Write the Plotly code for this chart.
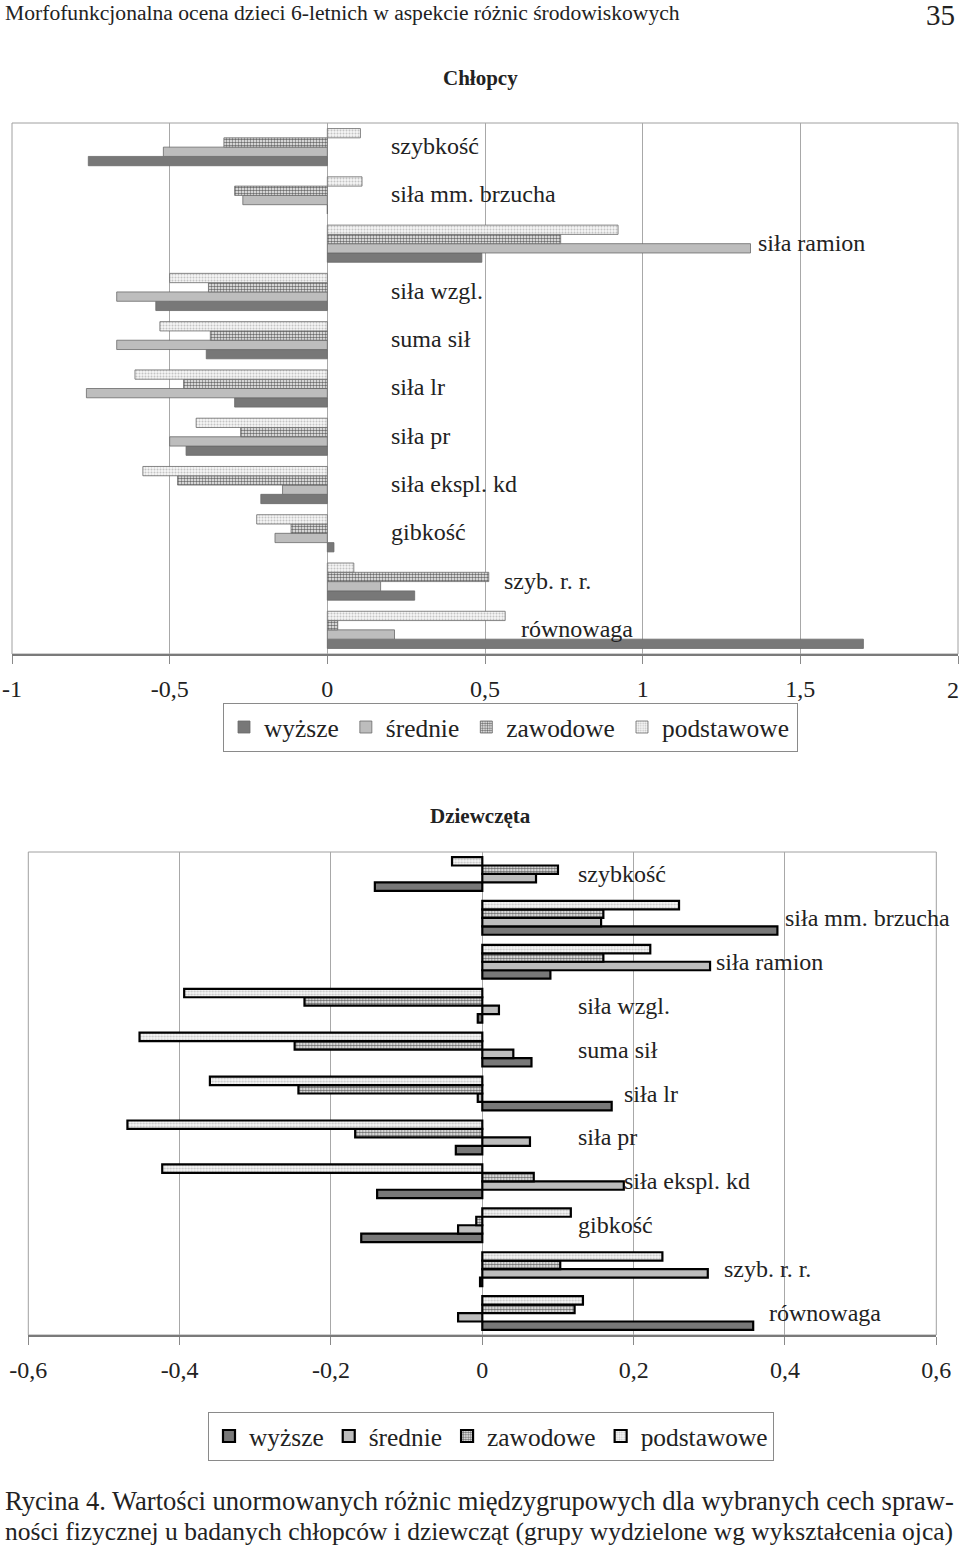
import plotly.graph_objects as go

# ---------------- data ----------------
categories = ["szybkość", "siła mm. brzucha", "siła ramion", "siła wzgl.", "suma sił",
              "siła lr", "siła pr", "siła ekspl. kd", "gibkość", "szyb. r. r.", "równowaga"]
series_names = ["wyższe", "średnie", "zawodowe", "podstawowe"]

# Chłopcy (boys)
boys_wyzsze     = [-0.758, 0.0, 0.49, -0.544, -0.384, -0.294, -0.448, -0.211, 0.021, 0.277, 1.70]
boys_srednie    = [-0.52, -0.268, 1.342, -0.668, -0.668, -0.764, -0.50, -0.142, -0.166, 0.169, 0.213]
boys_zawodowe   = [-0.328, -0.294, 0.74, -0.377, -0.371, -0.456, -0.275, -0.475, -0.115, 0.512, 0.033]
boys_podstawowe = [0.105, 0.11, 0.922, -0.50, -0.531, -0.61, -0.416, -0.585, -0.224, 0.084, 0.564]

# Dziewczęta (girls)
girls_wyzsze     = [-0.142, 0.390, 0.090, -0.006, 0.065, 0.171, -0.035, -0.139, -0.160, -0.003, 0.358]
girls_srednie    = [0.071, 0.157, 0.301, 0.022, 0.041, -0.006, 0.063, 0.187, -0.032, 0.298, -0.032]
girls_zawodowe   = [0.100, 0.160, 0.160, -0.235, -0.248, -0.243, -0.168, 0.068, -0.008, 0.103, 0.122]
girls_podstawowe = [-0.040, 0.260, 0.222, -0.394, -0.453, -0.360, -0.469, -0.423, 0.117, 0.238, 0.133]

boys_ticks = [-1, -0.5, 0, 0.5, 1, 1.5, 2]
boys_tick_text = ["-1", "-0,5", "0", "0,5", "1", "1,5", "2"]
girls_ticks = [-0.6, -0.4, -0.2, 0, 0.2, 0.4, 0.6]
girls_tick_text = ["-0,6", "-0,4", "-0,2", "0", "0,2", "0,4", "0,6"]

# label anchor positions (x in data units, layout only)
boys_label_x = [0.207, 0.207, 1.372, 0.207, 0.207, 0.207, 0.207, 0.207, 0.207, 0.567, 0.622]
girls_label_x = [0.129, 0.403, 0.312, 0.129, 0.129, 0.19, 0.129, 0.19, 0.129, 0.322, 0.382]

# ---------------- styling ----------------
FONT = "Liberation Serif"
TXT = "#222222"
W, H = 960, 1547
HAIR = "\u200a"

def px_x(p):
    return p / W

def px_y(p):
    return 1 - p / H

styles = {
    "wyższe": dict(color="#787878", pattern=None),
    "średnie": dict(color="#bdbdbd", pattern=None),
    "zawodowe": dict(color="#ffffff",
                     pattern=dict(shape=".", fgcolor="#6e6e6e", bgcolor="#ffffff",
                                  size=3, solidity=0.55, fillmode="replace")),
    "podstawowe": dict(color="#f4f4f4",
                       pattern=dict(shape=".", fgcolor="#c4c4c4", bgcolor="#f6f6f6",
                                    size=3, solidity=0.35, fillmode="replace")),
}

fig = go.Figure()

boys_series = [boys_wyzsze, boys_srednie, boys_zawodowe, boys_podstawowe]
girls_series = [girls_wyzsze, girls_srednie, girls_zawodowe, girls_podstawowe]

for name, vals in zip(series_names, boys_series):
    st = styles[name]
    marker = dict(color=st["color"], line=dict(color="#6a6a6a", width=0.8))
    if st["pattern"]:
        marker["pattern"] = st["pattern"]
    fig.add_trace(go.Bar(x=vals, y=categories, orientation="h", name=name + HAIR,
                         marker=marker, xaxis="x", yaxis="y", legend="legend"))

for name, vals in zip(series_names, girls_series):
    st = styles[name]
    marker = dict(color=st["color"], line=dict(color="#000000", width=2.2))
    if st["pattern"]:
        marker["pattern"] = st["pattern"]
    fig.add_trace(go.Bar(x=vals, y=categories, orientation="h", name=name,
                         marker=marker, xaxis="x2", yaxis="y2", legend="legend2"))

# plot area pixel geometry
top_x0, top_x1, top_y0, top_y1 = 12, 958, 123, 654
bot_x0, bot_x1, bot_y0, bot_y1 = 28.3, 936.3, 852, 1335

axis_common = dict(showgrid=True, gridcolor="#a8a8a8", gridwidth=1,
                   zeroline=True, zerolinecolor="#a8a8a8", zerolinewidth=1,
                   showline=True, linecolor="#7a7a7a", linewidth=2, mirror=False,
                   ticks="outside", ticklen=8, tickcolor="#8a8a8a", tickwidth=1,
                   tickfont=dict(family=FONT, size=24, color=TXT),
                   ticklabelstandoff=4, ticklabeloverflow="allow",
                   automargin=False, fixedrange=True)

yaxis_common = dict(categoryorder="array", categoryarray=categories[::-1],
                    range=[-0.5, 10.5], showticklabels=False, ticks="", showgrid=False,
                    showline=False, zeroline=False, automargin=False, fixedrange=True)

legend_common = dict(orientation="h", xanchor="left", yanchor="top",
                     bgcolor="white", bordercolor="#8a8a8a", borderwidth=1,
                     font=dict(family=FONT, size=25.4, color=TXT),
                     itemclick=False, itemdoubleclick=False)

# the last tick label ("2") sits at the page edge: drawn right-aligned instead
boys_tick_shown = boys_tick_text[:-1] + [""]

fig.update_layout(
    width=W, height=H,
    autosize=False,
    margin=dict(l=0, r=0, t=0, b=0, pad=0),
    paper_bgcolor="white", plot_bgcolor="white",
    barmode="group", bargap=0.23, bargroupgap=0,
    showlegend=True,
    font=dict(family=FONT, color=TXT),
    xaxis=dict(domain=[px_x(top_x0), px_x(top_x1)], anchor="y", range=[-1, 2],
               tickvals=boys_ticks, ticktext=boys_tick_shown, **axis_common),
    yaxis=dict(domain=[px_y(top_y1), px_y(top_y0)], anchor="x", **yaxis_common),
    xaxis2=dict(domain=[px_x(bot_x0), px_x(bot_x1)], anchor="y2", range=[-0.6, 0.6],
                tickvals=girls_ticks, ticktext=girls_tick_text, **axis_common),
    yaxis2=dict(domain=[px_y(bot_y1), px_y(bot_y0)], anchor="x2", **yaxis_common),
    legend=dict(x=px_x(223), y=px_y(703), **legend_common),
    legend2=dict(x=px_x(208), y=px_y(1412), **legend_common),
)

# plot-area borders
shapes = []
for x0, x1, y0, y1 in [(top_x0, top_x1, top_y0, top_y1), (bot_x0, bot_x1, bot_y0, bot_y1)]:
    shapes.append(dict(type="rect", xref="paper", yref="paper",
                       x0=px_x(x0), x1=px_x(x1), y0=px_y(y1), y1=px_y(y0),
                       line=dict(color="#a0a0a0", width=1), fillcolor="rgba(0,0,0,0)",
                       layer="below"))
fig.update_layout(shapes=shapes)

annotations = []
for cat, lx in zip(categories, boys_label_x):
    annotations.append(dict(x=lx, y=cat, xref="x", yref="y", text=cat, showarrow=False,
                            xanchor="left", yanchor="middle", xshift=-4, yshift=1,
                            font=dict(family=FONT, size=24, color=TXT)))
for cat, lx in zip(categories, girls_label_x):
    annotations.append(dict(x=lx, y=cat, xref="x2", yref="y2", text=cat, showarrow=False,
                            xanchor="left", yanchor="middle", xshift=-4,
                            font=dict(family=FONT, size=24, color=TXT)))

# last tick label of the boys' axis
annotations.append(dict(x=boys_ticks[-1], y=px_y(690), xref="x", yref="paper",
                        text=boys_tick_text[-1], showarrow=False,
                        xanchor="right", yanchor="middle", xshift=3,
                        font=dict(family=FONT, size=24, color=TXT)))

# page header, subtitles and caption
annotations += [
    dict(x=px_x(3), y=px_y(13), xref="paper", yref="paper", showarrow=False,
         xanchor="left", yanchor="middle",
         text="Morfofunkcjonalna ocena dzieci 6-letnich w aspekcie różnic środowiskowych",
         font=dict(family=FONT, size=21.6, color=TXT)),
    dict(x=px_x(957), y=px_y(15), xref="paper", yref="paper", showarrow=False,
         xanchor="right", yanchor="middle", text="35",
         font=dict(family=FONT, size=29, color=TXT)),
    dict(x=0.5, y=px_y(78), xref="paper", yref="paper", showarrow=False,
         xanchor="center", yanchor="middle", text="<b>Chłopcy</b>",
         font=dict(family=FONT, size=21, color=TXT)),
    dict(x=0.5, y=px_y(816), xref="paper", yref="paper", showarrow=False,
         xanchor="center", yanchor="middle", text="<b>Dziewczęta</b>",
         font=dict(family=FONT, size=21, color=TXT)),
    dict(x=px_x(3), y=px_y(1501), xref="paper", yref="paper", showarrow=False,
         xanchor="left", yanchor="middle",
         text="Rycina 4. Wartości unormowanych różnic międzygrupowych dla wybranych cech spraw-",
         font=dict(family=FONT, size=26.6, color=TXT)),
    dict(x=px_x(3), y=px_y(1531), xref="paper", yref="paper", showarrow=False,
         xanchor="left", yanchor="middle",
         text="ności fizycznej u badanych chłopców i dziewcząt (grupy wydzielone wg wykształcenia ojca)",
         font=dict(family=FONT, size=25.5, color=TXT)),
]
fig.update_layout(annotations=annotations)

fig.write_html("out.html", config=dict(displayModeBar=False, staticPlot=True),
               post_script="document.body.style.margin='0';document.body.style.overflow='hidden';")
